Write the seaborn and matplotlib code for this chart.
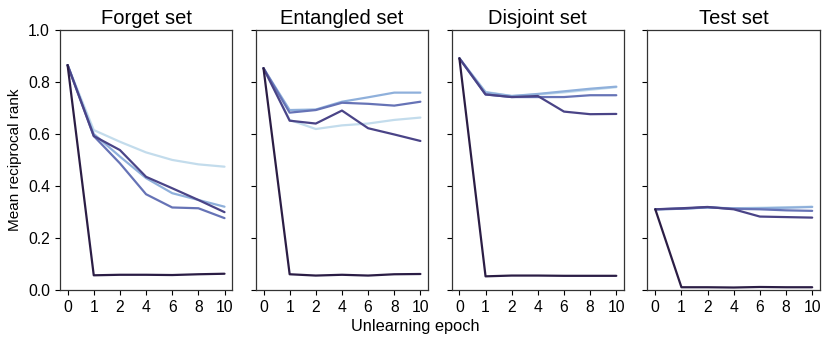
import numpy as np
import pandas as pd
import matplotlib
matplotlib.use("Agg")
import matplotlib.pyplot as plt
import seaborn as sns

# epochs (plotted as equally spaced categories)
epocas = ["0", "1", "2", "4", "6", "8", "10"]
paineis = ["Forget set", "Entangled set", "Disjoint set", "Test set"]
series = ["A", "B", "C", "D", "E"]
cores = ["#c3dcec", "#8fb0db", "#6673b6", "#4a4487", "#2b1d45"]

# Mean reciprocal rank per panel, per series
forget_A = [0.865, 0.615, 0.570, 0.529, 0.500, 0.483, 0.474]
forget_B = [0.865, 0.600, 0.513, 0.430, 0.372, 0.346, 0.320]
forget_C = [0.865, 0.592, 0.487, 0.368, 0.317, 0.314, 0.276]
forget_D = [0.865, 0.592, 0.538, 0.435, 0.391, 0.346, 0.299]
forget_E = [0.865, 0.056, 0.058, 0.058, 0.057, 0.060, 0.062]

entangled_A = [0.853, 0.654, 0.619, 0.633, 0.640, 0.654, 0.663]
entangled_B = [0.853, 0.692, 0.694, 0.724, 0.741, 0.759, 0.759]
entangled_C = [0.853, 0.682, 0.692, 0.720, 0.716, 0.709, 0.724]
entangled_D = [0.853, 0.651, 0.640, 0.690, 0.622, 0.598, 0.573]
entangled_E = [0.853, 0.060, 0.055, 0.058, 0.055, 0.060, 0.061]

disjoint_A = [0.891, 0.762, 0.746, 0.752, 0.760, 0.770, 0.780]
disjoint_B = [0.891, 0.760, 0.746, 0.754, 0.764, 0.774, 0.782]
disjoint_C = [0.891, 0.752, 0.742, 0.742, 0.742, 0.749, 0.749]
disjoint_D = [0.891, 0.752, 0.742, 0.746, 0.686, 0.676, 0.677]
disjoint_E = [0.891, 0.052, 0.055, 0.055, 0.054, 0.054, 0.054]

test_A = [0.310, 0.313, 0.317, 0.314, 0.316, 0.318, 0.320]
test_B = [0.310, 0.312, 0.317, 0.313, 0.314, 0.316, 0.319]
test_C = [0.310, 0.312, 0.318, 0.312, 0.310, 0.306, 0.304]
test_D = [0.310, 0.314, 0.319, 0.310, 0.282, 0.280, 0.278]
test_E = [0.310, 0.010, 0.010, 0.009, 0.011, 0.010, 0.010]

valores = {
    "Forget set": [forget_A, forget_B, forget_C, forget_D, forget_E],
    "Entangled set": [entangled_A, entangled_B, entangled_C, entangled_D, entangled_E],
    "Disjoint set": [disjoint_A, disjoint_B, disjoint_C, disjoint_D, disjoint_E],
    "Test set": [test_A, test_B, test_C, test_D, test_E],
}

linhas = []
for painel in paineis:
    for nome, ys in zip(series, valores[painel]):
        for ep, y in zip(epocas, ys):
            linhas.append({"painel": painel, "serie": nome, "epoca": ep, "mrr": y})
df = pd.DataFrame(linhas)

sns.set_style("ticks")
plt.rcParams["font.family"] = ["Liberation Sans", "DejaVu Sans"]
plt.rcParams["text.color"] = "black"
plt.rcParams["axes.labelcolor"] = "black"
plt.rcParams["xtick.color"] = "black"
plt.rcParams["ytick.color"] = "black"

fig, axes = plt.subplots(1, 4, figsize=(8.3, 3.41), dpi=100, sharey=True)
fig.subplots_adjust(left=0.072, right=0.988, top=0.912, bottom=0.150, wspace=0.135)

for ax, painel in zip(axes, paineis):
    sub = df[df["painel"] == painel]
    sns.lineplot(data=sub, x="epoca", y="mrr", hue="serie", hue_order=series,
                 palette=cores, linewidth=1.6, legend=False, ax=ax)
    ax.set_title(painel, fontsize=14.5, pad=4)
    ax.set_xlabel("")
    ax.set_ylabel("")
    ax.set_ylim(0, 1)
    ax.set_yticks([0, 0.2, 0.4, 0.6, 0.8, 1.0])
    ax.set_xlim(-0.3, 6.3)
    ax.tick_params(labelsize=11.3, length=3.5, width=0.8)
    for s in ax.spines.values():
        s.set_linewidth(0.9)
        s.set_color("#333333")

axes[0].set_ylabel("Mean reciprocal rank", fontsize=11)
fig.supxlabel("Unlearning epoch", fontsize=11.8, y=0.02, x=0.50)

plt.savefig("out.png", dpi=100)
